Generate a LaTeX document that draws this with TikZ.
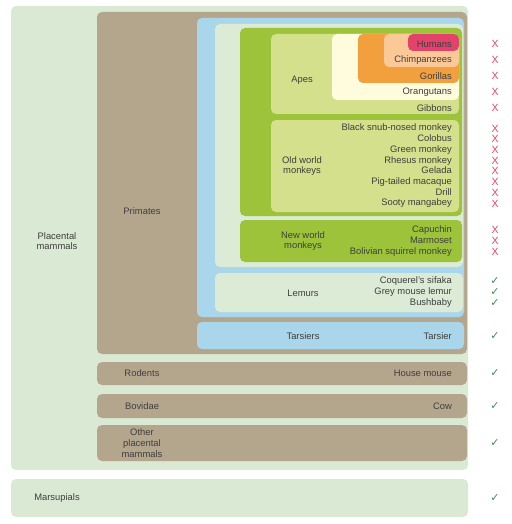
\documentclass[tikz,border=0pt]{standalone}
\usepackage{fontspec}
\setmainfont{Liberation Sans}
\newfontfamily\symfont{DejaVu Sans}
\usetikzlibrary{positioning}
\definecolor{placental}{HTML}{D9E9D3}
\definecolor{taupe}{HTML}{B4A68D}
\definecolor{skyblue}{HTML}{AAD6EC}
\definecolor{simian}{HTML}{DCEBD6}
\definecolor{catarrh}{HTML}{9DC33B}
\definecolor{lime}{HTML}{D4E08C}
\definecolor{cream}{HTML}{FFFBDD}
\definecolor{african}{HTML}{F2A03D}
\definecolor{peach}{HTML}{FBC997}
\definecolor{human}{HTML}{E3436B}
\definecolor{textgray}{HTML}{3F3F3F}
\definecolor{crossred}{HTML}{E2475A}
\definecolor{tickgreen}{HTML}{3D8C52}
\tikzstyle{box} = [rounded corners=5pt]
\tikzstyle{taxon} = [text=textgray, align=center, inner sep=0pt, font=\fontsize{9.4}{10.7}\selectfont]
\tikzstyle{species} = [text=textgray, align=right, anchor=east, inner sep=0pt, font=\fontsize{9.4}{10.7}\selectfont]
\tikzstyle{cross} = [text=crossred, align=center, inner sep=0pt, font=\fontsize{10.5}{10.7}\selectfont]
\tikzstyle{tick} = [text=tickgreen, align=center, inner sep=0pt, font=\symfont\fontsize{11}{10.7}\selectfont]

\begin{document}
\begin{tikzpicture}[x=1pt, y=-1pt]
    \useasboundingbox (0,0) rectangle (511,524);

    % nested groups
    \fill[box, placental] (11,6) rectangle (468,470);
    \fill[box, placental] (11,479) rectangle (468,517);
    \fill[box, taupe] (97,12) rectangle (467,354);
    \fill[box, taupe] (97,362) rectangle (467,385);
    \fill[box, taupe] (97,394) rectangle (467,418);
    \fill[box, taupe] (97,425) rectangle (467,461);
    \fill[box, skyblue] (197,18) rectangle (464,317);
    \fill[box, skyblue] (197,322) rectangle (464,349);
    \fill[box, simian] (215,24) rectangle (463,267);
    \fill[box, simian] (215,273) rectangle (463,312);
    \fill[box, catarrh] (240,28) rectangle (462,216);
    \fill[box, catarrh] (240,220) rectangle (462,262);
    \fill[box, lime] (271,34) rectangle (459,114);
    \fill[box, lime] (271,120) rectangle (459,212);
    \fill[box, cream] (332,34) rectangle (459,100);
    \fill[box, african] (358,34) rectangle (459,83);
    \fill[box, peach] (384,34) rectangle (459,67);
    \fill[box, human] (408,34) rectangle (459,51);

    % group labels
    \node (placental) [taxon] at (57,241) {Placental\\mammals};
    \node (marsupials) [taxon] at (57,498) {Marsupials};
    \node (primates) [taxon] at (142,211) {Primates};
    \node (rodents) [taxon] at (142,373) {Rodents};
    \node (bovidae) [taxon] at (142,406) {Bovidae};
    \node (otherpl) [taxon] at (142,443) {Other\\placental\\mammals};
    \node (apes) [taxon] at (302,80) {Apes};
    \node (owm) [taxon] at (302,166) {Old world\\monkeys};
    \node (nwm) [taxon] at (303,241) {New world\\monkeys};
    \node (lemurs) [taxon] at (303,293) {Lemurs};
    \node (tarsiers) [taxon] at (303,336) {Tarsiers};

    % species
    \node (humans) [species] at (452,44) {Humans};
    \node (chimps) [species] at (452,60) {Chimpanzees};
    \node (gorillas) [species] at (452,76) {Gorillas};
    \node (orangs) [species] at (452,92) {Orangutans};
    \node (gibbons) [species] at (452,108) {Gibbons};
    \node (owmsp) [species] at (452,166) {Black snub-nosed monkey\\Colobus\\Green monkey\\Rhesus monkey\\Gelada\\Pig-tailed macaque\\Drill\\Sooty mangabey};
    \node (nwmsp) [species] at (452,241) {Capuchin\\Marmoset\\Bolivian squirrel monkey};
    \node (lemursp) [species] at (452,292) {Coquerel's sifaka\\Grey mouse lemur\\Bushbaby};
    \node (tarsier) [species] at (452,336) {Tarsier};
    \node (mouse) [species] at (452,373) {House mouse};
    \node (cow) [species] at (452,406) {Cow};

    % marks
    \coordinate (markcol) at (495,0);
    \node (x1) [cross] at (humans -| markcol) {X};
    \node (x2) [cross] at (chimps -| markcol) {X};
    \node (x3) [cross] at (gorillas -| markcol) {X};
    \node (x4) [cross] at (orangs -| markcol) {X};
    \node (x5) [cross] at (gibbons -| markcol) {X};
    \node (x6) [cross] at (owmsp -| markcol) {X\\X\\X\\X\\X\\X\\X\\X};
    \node (x7) [cross] at (nwmsp -| markcol) {X\\X\\X};
    \node (t1) [tick] at (lemursp -| markcol) {✓\\✓\\✓};
    \node (t2) [tick] at (tarsier -| markcol) {✓};
    \node (t3) [tick] at (mouse -| markcol) {✓};
    \node (t4) [tick] at (cow -| markcol) {✓};
    \node (t5) [tick] at (otherpl -| markcol) {✓};
    \node (t6) [tick] at (marsupials -| markcol) {✓};

  \end{tikzpicture}
\end{document}
